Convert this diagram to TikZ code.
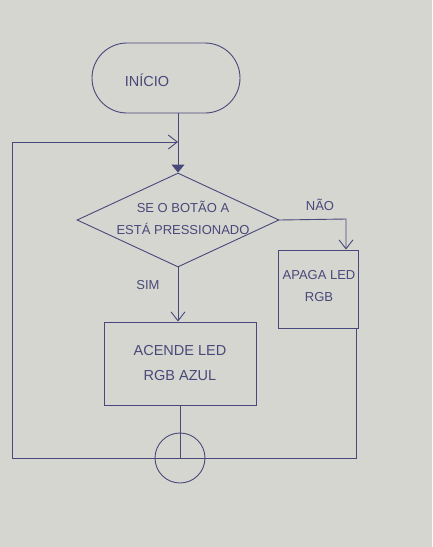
\documentclass[tikz,border=0pt]{standalone}
\usepackage{fontspec}
\setmainfont{Liberation Sans}
\usetikzlibrary{arrows.meta,shapes.misc,shapes.geometric}
\definecolor{paper}{RGB}{214,214,208}
\definecolor{ink}{RGB}{72,72,122}
\begin{document}
\begin{tikzpicture}[x=1pt,y=-1pt,
  every node/.style={text=ink,font=\fontsize{13}{22}\selectfont},
  big/.style={font=\fontsize{14.5}{25}\selectfont},
  ln/.style={draw=ink,line width=0.9pt},
  boxnode/.style={ln,rectangle,align=center,inner sep=0pt},
  openarr/.style={ln,-{Straight Barb[length=9pt,width=14pt]}},
  fillarr/.style={ln,-{Triangle[length=8pt,width=13pt]}}]
\fill[paper] (0,0) rectangle (432,547);
\useasboundingbox (0,0) rectangle (432,547);
% start
\node[ln,rounded rectangle,minimum width=148pt,minimum height=70pt,inner sep=0pt] (start) at (166,78) {};
\node[big] at (147,80) {INÍCIO};
% decision
\node[ln,diamond,minimum width=202pt,minimum height=94pt,aspect=2.15,inner sep=0pt,align=center] (dec) at (178,220) {};
\node[align=center] at (183,218) {SE O BOTÃO A\\ESTÁ PRESSIONADO};
% boxes
\node[boxnode,minimum width=80pt,minimum height=78pt] (apaga) at (318,289) {};
\node[align=center] at (319,286) {APAGA LED\\RGB};
\node[boxnode,big,minimum width=152pt,minimum height=83pt] (acende) at (180,363.5) {ACENDE LED\\RGB AZUL};
% connector circle
\node[ln,circle,minimum size=50pt,inner sep=0pt] (conn) at (180,458) {};
% coordinates
\coordinate (loopL) at (12,458);
\coordinate (loopT) at (12,142);
\coordinate (join) at (178,142);
\coordinate (nR) at (346,219);
\coordinate (aR) at (356,458);
% edges
\draw[fillarr] (start.south -| dec.north) -- (dec.north);
\draw[openarr] (dec.east) -- (nR) -- (nR |- apaga.north);
\node at (320,205) {NÃO};
\draw[openarr] (dec.south) -- (dec.south |- acende.north);
\node at (148,285) {SIM};
\draw[ln] (acende.south -| conn.center) -- (conn.center);
\draw[ln] (aR |- apaga.south) -- (aR) -- (conn.center);
\draw[ln] (conn.center) -- (loopL) -- (loopT);
\draw[openarr] (loopT) -- (join);
\end{tikzpicture}
\end{document}
